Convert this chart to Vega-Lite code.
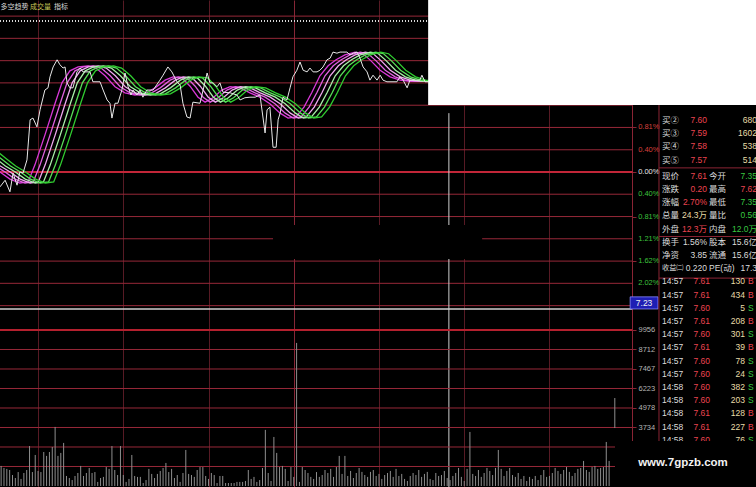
{
"$schema":"https://vega.github.io/schema/vega-lite/v6.json",
"width":756,"height":487,
"autosize":{"type":"none"},
"padding":0,
"background":"#000000",
"config":{"view":{"stroke":null}},
"datasets":{
"px":[{"t":16.6,"p":-0.27},{"t":18.4,"p":-0.15},{"t":20.1,"p":-0.36},{"t":21.2,"p":-0.02},{"t":22.6,"p":-0.24},{"t":23.6,"p":0.0},{"t":24.7,"p":-0.02},{"t":26.1,"p":0.22},{"t":27.2,"p":0.95},{"t":28.2,"p":0.98},{"t":29.6,"p":0.82},{"t":30.7,"p":1.13},{"t":32.4,"p":1.49},{"t":33.5,"p":1.53},{"t":34.2,"p":1.73},{"t":35.3,"p":1.91},{"t":36.7,"p":2.04},{"t":37.7,"p":1.95},{"t":38.8,"p":1.89},{"t":39.5,"p":1.91},{"t":40.2,"p":1.62},{"t":41.2,"p":1.53},{"t":42.3,"p":1.53},{"t":43.7,"p":1.82},{"t":44.8,"p":1.89},{"t":45.8,"p":1.82},{"t":48.3,"p":1.82},{"t":49.3,"p":1.64},{"t":51.8,"p":1.64},{"t":52.9,"p":1.49},{"t":54.3,"p":1.31},{"t":55.3,"p":1.25},{"t":56.0,"p":0.98},{"t":57.1,"p":1.25},{"t":58.1,"p":1.25},{"t":59.5,"p":1.49},{"t":60.6,"p":1.8},{"t":61.7,"p":1.55},{"t":62.7,"p":1.4},{"t":63.4,"p":1.49},{"t":64.8,"p":1.4},{"t":65.9,"p":1.49},{"t":66.9,"p":1.36},{"t":68.3,"p":1.49},{"t":70.5,"p":1.49},{"t":72.9,"p":1.67},{"t":74.0,"p":1.76},{"t":75.7,"p":1.91},{"t":77.1,"p":1.82},{"t":78.9,"p":1.64},{"t":80.0,"p":1.58},{"t":81.0,"p":1.25},{"t":82.4,"p":1.0},{"t":83.5,"p":0.98},{"t":84.5,"p":1.27},{"t":87.0,"p":1.25},{"t":89.5,"p":1.8},{"t":90.5,"p":1.62},{"t":91.6,"p":1.62},{"t":93.0,"p":1.55},{"t":94.0,"p":1.62},{"t":95.1,"p":1.45},{"t":97.6,"p":1.44},{"t":100.0,"p":1.4},{"t":101.1,"p":1.31},{"t":102.8,"p":1.35},{"t":104.6,"p":1.36},{"t":106.4,"p":1.36},{"t":108.1,"p":1.4},{"t":109.9,"p":0.71},{"t":110.6,"p":1.13},{"t":111.6,"p":1.18},{"t":112.7,"p":0.45},{"t":113.8,"p":0.45},{"t":114.5,"p":0.95},{"t":115.2,"p":1.07},{"t":116.2,"p":1.36},{"t":117.6,"p":1.31},{"t":118.7,"p":1.53},{"t":119.7,"p":1.73},{"t":121.1,"p":1.85},{"t":122.2,"p":2.0},{"t":123.3,"p":1.85},{"t":124.7,"p":1.82},{"t":125.7,"p":1.89},{"t":126.8,"p":1.82},{"t":128.2,"p":1.82},{"t":129.2,"p":1.85},{"t":130.3,"p":1.91},{"t":131.7,"p":2.04},{"t":132.8,"p":2.07},{"t":133.8,"p":2.18},{"t":135.2,"p":2.16},{"t":136.3,"p":2.18},{"t":137.3,"p":2.18},{"t":138.7,"p":2.18},{"t":139.8,"p":2.13},{"t":140.9,"p":2.16},{"t":142.3,"p":2.18},{"t":143.3,"p":2.07},{"t":144.4,"p":1.91},{"t":145.8,"p":1.82},{"t":146.8,"p":1.67},{"t":147.9,"p":1.76},{"t":149.3,"p":1.67},{"t":150.4,"p":1.76},{"t":151.4,"p":1.67},{"t":152.8,"p":1.64},{"t":156.3,"p":1.64},{"t":157.4,"p":1.73},{"t":158.5,"p":1.67},{"t":159.9,"p":1.53},{"t":160.9,"p":1.67},{"t":164.4,"p":1.67},{"t":165.1,"p":1.76},{"t":166.2,"p":1.64},{"t":167.3,"p":1.64}],
"rib":[
{"p":0.40,"t0":6.0,"t1":7.8,"t2":9.6,"t3":11.4,"t4":13.2,"t5":15.0},
{"p":0.25,"t0":9.6,"t1":11.4,"t2":13.2,"t3":15.0,"t4":16.8,"t5":18.6},
{"p":0.11,"t0":13.1,"t1":14.9,"t2":16.7,"t3":18.5,"t4":20.3,"t5":22.1},
{"p":0.00,"t0":16.6,"t1":18.4,"t2":20.2,"t3":22.0,"t4":23.8,"t5":25.6},
{"p":-0.13,"t0":20.1,"t1":21.9,"t2":23.7,"t3":25.5,"t4":27.3,"t5":29.1},
{"p":-0.20,"t0":23.6,"t1":25.4,"t2":27.2,"t3":29.0,"t4":30.8,"t5":32.6},
{"p":-0.18,"t0":26.5,"t1":28.3,"t2":30.1,"t3":31.9,"t4":33.7,"t5":35.5},
{"p":0.13,"t0":28.9,"t1":30.7,"t2":32.5,"t3":34.3,"t4":36.1,"t5":37.9},
{"p":0.67,"t0":32.4,"t1":34.2,"t2":36.0,"t3":37.8,"t4":39.6,"t5":41.4},
{"p":1.25,"t0":36.0,"t1":37.8,"t2":39.6,"t3":41.4,"t4":43.2,"t5":45.0},
{"p":1.62,"t0":38.4,"t1":40.2,"t2":42.0,"t3":43.8,"t4":45.6,"t5":47.4},
{"p":1.84,"t0":41.2,"t1":43.0,"t2":44.8,"t3":46.6,"t4":48.4,"t5":50.2},
{"p":1.91,"t0":44.1,"t1":45.9,"t2":47.7,"t3":49.5,"t4":51.3,"t5":53.1},
{"p":1.93,"t0":47.6,"t1":49.4,"t2":51.2,"t3":53.0,"t4":54.8,"t5":56.6},
{"p":1.89,"t0":50.4,"t1":52.2,"t2":54.0,"t3":55.8,"t4":57.6,"t5":59.4},
{"p":1.75,"t0":53.6,"t1":55.4,"t2":57.2,"t3":59.0,"t4":60.8,"t5":62.6},
{"p":1.55,"t0":57.1,"t1":58.9,"t2":60.7,"t3":62.5,"t4":64.3,"t5":66.1},
{"p":1.44,"t0":60.6,"t1":62.4,"t2":64.2,"t3":66.0,"t4":67.8,"t5":69.6},
{"p":1.40,"t0":64.1,"t1":65.9,"t2":67.7,"t3":69.5,"t4":71.3,"t5":73.1},
{"p":1.42,"t0":67.6,"t1":69.4,"t2":71.2,"t3":73.0,"t4":74.8,"t5":76.6},
{"p":1.53,"t0":71.2,"t1":73.0,"t2":74.8,"t3":76.6,"t4":78.4,"t5":80.2},
{"p":1.67,"t0":74.7,"t1":76.5,"t2":78.3,"t3":80.1,"t4":81.9,"t5":83.7},
{"p":1.73,"t0":77.5,"t1":79.3,"t2":81.1,"t3":82.9,"t4":84.7,"t5":86.5},
{"p":1.71,"t0":80.7,"t1":82.5,"t2":84.3,"t3":86.1,"t4":87.9,"t5":89.7},
{"p":1.56,"t0":83.5,"t1":85.3,"t2":87.1,"t3":88.9,"t4":90.7,"t5":92.5},
{"p":1.36,"t0":86.3,"t1":88.1,"t2":89.9,"t3":91.7,"t4":93.5,"t5":95.3},
{"p":1.27,"t0":88.8,"t1":90.6,"t2":92.4,"t3":94.2,"t4":96.0,"t5":97.8},
{"p":1.35,"t0":91.6,"t1":93.4,"t2":95.2,"t3":97.0,"t4":98.8,"t5":100.6},
{"p":1.49,"t0":94.7,"t1":96.5,"t2":98.3,"t3":100.1,"t4":101.9,"t5":103.7},
{"p":1.55,"t0":97.6,"t1":99.4,"t2":101.2,"t3":103.0,"t4":104.8,"t5":106.6},
{"p":1.53,"t0":101.1,"t1":102.9,"t2":104.7,"t3":106.5,"t4":108.3,"t5":110.1},
{"p":1.44,"t0":104.6,"t1":106.4,"t2":108.2,"t3":110.0,"t4":111.8,"t5":113.6},
{"p":1.36,"t0":108.1,"t1":109.9,"t2":111.7,"t3":113.5,"t4":115.3,"t5":117.1},
{"p":1.24,"t0":111.6,"t1":113.4,"t2":115.2,"t3":117.0,"t4":118.8,"t5":120.6},
{"p":1.07,"t0":115.2,"t1":117.0,"t2":118.8,"t3":120.6,"t4":122.4,"t5":124.2},
{"p":0.98,"t0":118.0,"t1":119.8,"t2":121.6,"t3":123.4,"t4":125.2,"t5":127.0},
{"p":1.00,"t0":120.8,"t1":122.6,"t2":124.4,"t3":126.2,"t4":128.0,"t5":129.8},
{"p":1.18,"t0":123.6,"t1":125.4,"t2":127.2,"t3":129.0,"t4":130.8,"t5":132.6},
{"p":1.45,"t0":126.4,"t1":128.2,"t2":130.0,"t3":131.8,"t4":133.6,"t5":135.4},
{"p":1.75,"t0":129.2,"t1":131.0,"t2":132.8,"t3":134.6,"t4":136.4,"t5":138.2},
{"p":1.93,"t0":132.1,"t1":133.9,"t2":135.7,"t3":137.5,"t4":139.3,"t5":141.1},
{"p":2.04,"t0":134.9,"t1":136.7,"t2":138.5,"t3":140.3,"t4":142.1,"t5":143.9},
{"p":2.13,"t0":138.0,"t1":139.8,"t2":141.6,"t3":143.4,"t4":145.2,"t5":147.0},
{"p":2.18,"t0":141.6,"t1":143.4,"t2":145.2,"t3":147.0,"t4":148.8,"t5":150.6},
{"p":2.15,"t0":144.4,"t1":146.2,"t2":148.0,"t3":149.8,"t4":151.6,"t5":153.4},
{"p":2.02,"t0":147.2,"t1":149.0,"t2":150.8,"t3":152.6,"t4":154.4,"t5":156.2},
{"p":1.85,"t0":150.4,"t1":152.2,"t2":154.0,"t3":155.8,"t4":157.6,"t5":159.4},
{"p":1.73,"t0":153.9,"t1":155.7,"t2":157.5,"t3":159.3,"t4":161.1,"t5":162.9},
{"p":1.67,"t0":157.4,"t1":159.2,"t2":161.0,"t3":162.8,"t4":164.6,"t5":166.4},
{"p":1.65,"t0":160.9,"t1":162.7,"t2":164.5,"t3":166.3,"t4":168.1,"t5":169.9},
{"p":1.65,"t0":164.4,"t1":166.2,"t2":168.0,"t3":169.8,"t4":171.6,"t5":173.4},
{"p":1.65,"t0":168.0,"t1":169.8,"t2":171.6,"t3":173.4,"t4":175.2,"t5":177.0}],
"pgrid":[{"p":-2.43},{"p":-2.024},{"p":-1.62},{"p":-1.214},{"p":-0.81},{"p":-0.404},{"p":0.404},{"p":0.81},{"p":1.214},{"p":1.62},{"p":2.024},{"p":2.43},{"p":2.834}],
"plab":[{"p":0.81,"s":"0.81%","k":"r"},{"p":0.404,"s":"0.40%","k":"r"},{"p":0,"s":"0.00%","k":"w"},{"p":-0.404,"s":"0.40%","k":"g"},{"p":-0.81,"s":"0.81%","k":"g"},{"p":-1.214,"s":"1.21%","k":"g"},{"p":-1.62,"s":"1.62%","k":"g"},{"p":-2.024,"s":"2.02%","k":"g"}],
"vgrid":[{"v":1245},{"v":2489},{"v":3734},{"v":4978},{"v":6223},{"v":7467},{"v":8712}],
"vol":[{"t":17,"v":1280},{"t":18,"v":1150},{"t":19,"v":1090},{"t":20,"v":1020},{"t":21,"v":700},{"t":22,"v":510},{"t":23,"v":890},{"t":24,"v":450},{"t":25,"v":830},{"t":26,"v":1020},{"t":27,"v":2550},{"t":28,"v":890},{"t":29,"v":1980},{"t":30,"v":960},{"t":31,"v":890},{"t":32,"v":2170},{"t":33,"v":1920},{"t":34,"v":2170},{"t":35,"v":2490},{"t":36,"v":3770},{"t":37,"v":1920},{"t":38,"v":2110},{"t":39,"v":2750},{"t":40,"v":640},{"t":41,"v":510},{"t":42,"v":380},{"t":43,"v":640},{"t":44,"v":830},{"t":45,"v":1280},{"t":46,"v":640},{"t":47,"v":830},{"t":48,"v":1150},{"t":49,"v":830},{"t":50,"v":890},{"t":51,"v":260},{"t":52,"v":510},{"t":53,"v":580},{"t":54,"v":1210},{"t":55,"v":1090},{"t":56,"v":2550},{"t":57,"v":1020},{"t":58,"v":700},{"t":59,"v":2550},{"t":60,"v":700},{"t":61,"v":260},{"t":62,"v":450},{"t":63,"v":1980},{"t":64,"v":640},{"t":65,"v":580},{"t":66,"v":580},{"t":67,"v":190},{"t":68,"v":380},{"t":69,"v":1090},{"t":70,"v":770},{"t":71,"v":510},{"t":72,"v":770},{"t":73,"v":960},{"t":74,"v":1150},{"t":75,"v":1470},{"t":76,"v":890},{"t":77,"v":1090},{"t":78,"v":510},{"t":79,"v":700},{"t":80,"v":260},{"t":81,"v":830},{"t":82,"v":2300},{"t":83,"v":770},{"t":84,"v":700},{"t":85,"v":580},{"t":86,"v":1020},{"t":87,"v":1210},{"t":88,"v":1210},{"t":89,"v":640},{"t":90,"v":450},{"t":91,"v":830},{"t":92,"v":700},{"t":93,"v":190},{"t":94,"v":640},{"t":95,"v":640},{"t":96,"v":190},{"t":97,"v":190},{"t":98,"v":190},{"t":99,"v":190},{"t":100,"v":260},{"t":101,"v":260},{"t":102,"v":260},{"t":103,"v":320},{"t":104,"v":1020},{"t":105,"v":450},{"t":106,"v":580},{"t":107,"v":260},{"t":108,"v":380},{"t":109,"v":1150},{"t":110,"v":3580},{"t":111,"v":830},{"t":112,"v":320},{"t":113,"v":3130},{"t":114,"v":2110},{"t":115,"v":1210},{"t":116,"v":1280},{"t":117,"v":1090},{"t":118,"v":320},{"t":119,"v":1210},{"t":120,"v":580},{"t":121,"v":9130},{"t":122,"v":260},{"t":123,"v":1210},{"t":124,"v":1020},{"t":125,"v":830},{"t":126,"v":580},{"t":127,"v":450},{"t":128,"v":890},{"t":129,"v":580},{"t":130,"v":700},{"t":131,"v":1020},{"t":132,"v":830},{"t":133,"v":1090},{"t":134,"v":580},{"t":135,"v":1210},{"t":136,"v":1920},{"t":137,"v":770},{"t":138,"v":1920},{"t":139,"v":640},{"t":140,"v":960},{"t":141,"v":510},{"t":142,"v":830},{"t":143,"v":1150},{"t":144,"v":900},{"t":145,"v":700},{"t":146,"v":580},{"t":147,"v":900},{"t":148,"v":1020},{"t":149,"v":640},{"t":150,"v":770},{"t":151,"v":450},{"t":152,"v":700},{"t":153,"v":830},{"t":154,"v":960},{"t":155,"v":580},{"t":156,"v":1090},{"t":157,"v":640},{"t":158,"v":770},{"t":159,"v":450},{"t":160,"v":320},{"t":161,"v":640},{"t":162,"v":830},{"t":163,"v":700},{"t":164,"v":1020},{"t":165,"v":580},{"t":166,"v":770},{"t":167,"v":900},{"t":168,"v":450},{"t":169,"v":380},{"t":170,"v":830},{"t":171,"v":640},{"t":172,"v":700},{"t":173,"v":960},{"t":174,"v":510},{"t":175,"v":380},{"t":176,"v":640},{"t":177,"v":830},{"t":178,"v":1150},{"t":179,"v":580},{"t":180,"v":320},{"t":181,"v":1090},{"t":182,"v":3450},{"t":183,"v":770},{"t":184,"v":640},{"t":185,"v":1020},{"t":186,"v":580},{"t":187,"v":830},{"t":188,"v":1150},{"t":189,"v":960},{"t":190,"v":700},{"t":191,"v":1150},{"t":192,"v":2300},{"t":193,"v":1090},{"t":194,"v":640},{"t":195,"v":960},{"t":196,"v":1150},{"t":197,"v":700},{"t":198,"v":580},{"t":199,"v":830},{"t":200,"v":450},{"t":201,"v":640},{"t":202,"v":320},{"t":203,"v":580},{"t":204,"v":450},{"t":205,"v":640},{"t":206,"v":380},{"t":207,"v":700},{"t":208,"v":1020},{"t":209,"v":580},{"t":210,"v":640},{"t":211,"v":830},{"t":212,"v":1150},{"t":213,"v":960},{"t":214,"v":770},{"t":215,"v":1020},{"t":216,"v":1210},{"t":217,"v":900},{"t":218,"v":640},{"t":219,"v":830},{"t":220,"v":1090},{"t":221,"v":1150},{"t":222,"v":1600},{"t":223,"v":1020},{"t":224,"v":900},{"t":225,"v":1210},{"t":226,"v":1280},{"t":227,"v":1090},{"t":228,"v":1150},{"t":229,"v":1210},{"t":230,"v":2810},{"t":231,"v":1600}],
"fb":[{"t":233,"v":5615,"v2":3700}],
"cross":[{"t":174.6,"p":1.07,"p2":-5.727}],
"occ":[{"t":112.7,"t2":186.3,"p":-0.964,"p2":-1.582}],
"wht":[{"t":167.3,"t2":282.7,"p":1.218,"p2":3.2}],
"lbl":[{"t":238.4,"t2":248.2,"p":-2.27,"p2":-2.49,"tc":243.3,"pc":-2.38,"s":"7.23"}],
"ttl":[{"t":16.8,"p":3.0,"s":"多空趋势","k":"w"},{"t":27.2,"p":3.0,"s":"成交量","k":"y"},{"t":35.6,"p":3.0,"s":"指标","k":"w"}],
"panel":[
{"r":0,"c":0,"s":"买②","k":"w"},{"r":0,"c":1,"s":"7.60","k":"r"},{"r":0,"c":3,"s":"680","k":"y"},
{"r":1,"c":0,"s":"买③","k":"w"},{"r":1,"c":1,"s":"7.59","k":"r"},{"r":1,"c":3,"s":"1602","k":"y"},
{"r":2,"c":0,"s":"买④","k":"w"},{"r":2,"c":1,"s":"7.58","k":"r"},{"r":2,"c":3,"s":"538","k":"y"},
{"r":3,"c":0,"s":"买⑤","k":"w"},{"r":3,"c":1,"s":"7.57","k":"r"},{"r":3,"c":3,"s":"514","k":"y"},
{"r":4,"c":0,"s":"现价","k":"w"},{"r":4,"c":1,"s":"7.61","k":"r"},{"r":4,"c":2,"s":"今开","k":"w"},{"r":4,"c":3,"s":"7.35","k":"g"},
{"r":5,"c":0,"s":"涨跌","k":"w"},{"r":5,"c":1,"s":"0.20","k":"r"},{"r":5,"c":2,"s":"最高","k":"w"},{"r":5,"c":3,"s":"7.62","k":"r"},
{"r":6,"c":0,"s":"涨幅","k":"w"},{"r":6,"c":1,"s":"2.70%","k":"r"},{"r":6,"c":2,"s":"最低","k":"w"},{"r":6,"c":3,"s":"7.35","k":"g"},
{"r":7,"c":0,"s":"总量","k":"w"},{"r":7,"c":1,"s":"24.3万","k":"y"},{"r":7,"c":2,"s":"量比","k":"w"},{"r":7,"c":3,"s":"0.56","k":"g"},
{"r":8,"c":0,"s":"外盘","k":"w"},{"r":8,"c":1,"s":"12.3万","k":"r"},{"r":8,"c":2,"s":"内盘","k":"w"},{"r":8,"c":3,"s":"12.0万","k":"g"},
{"r":9,"c":0,"s":"换手","k":"w"},{"r":9,"c":1,"s":"1.56%","k":"w"},{"r":9,"c":2,"s":"股本","k":"w"},{"r":9,"c":3,"s":"15.6亿","k":"w"},
{"r":10,"c":0,"s":"净资","k":"w"},{"r":10,"c":1,"s":"3.85","k":"w"},{"r":10,"c":2,"s":"流通","k":"w"},{"r":10,"c":3,"s":"15.6亿","k":"w"},
{"r":11,"c":0,"s":"收益㈡","k":"w"},{"r":11,"c":1,"s":"0.220","k":"w"},{"r":11,"c":2,"s":"PE(动)","k":"w"},{"r":11,"c":3,"s":"17.3","k":"w"},
{"r":12,"c":0,"s":"14:57","k":"w"},{"r":12,"c":1,"s":"7.61","k":"r"},{"r":12,"c":2,"s":"130","k":"y"},{"r":12,"c":3,"s":"B","k":"r"},
{"r":13,"c":0,"s":"14:57","k":"w"},{"r":13,"c":1,"s":"7.61","k":"r"},{"r":13,"c":2,"s":"434","k":"y"},{"r":13,"c":3,"s":"B","k":"r"},
{"r":14,"c":0,"s":"14:57","k":"w"},{"r":14,"c":1,"s":"7.60","k":"r"},{"r":14,"c":2,"s":"5","k":"y"},{"r":14,"c":3,"s":"S","k":"g"},
{"r":15,"c":0,"s":"14:57","k":"w"},{"r":15,"c":1,"s":"7.61","k":"r"},{"r":15,"c":2,"s":"208","k":"y"},{"r":15,"c":3,"s":"B","k":"r"},
{"r":16,"c":0,"s":"14:57","k":"w"},{"r":16,"c":1,"s":"7.60","k":"r"},{"r":16,"c":2,"s":"301","k":"y"},{"r":16,"c":3,"s":"S","k":"g"},
{"r":17,"c":0,"s":"14:57","k":"w"},{"r":17,"c":1,"s":"7.61","k":"r"},{"r":17,"c":2,"s":"39","k":"y"},{"r":17,"c":3,"s":"B","k":"r"},
{"r":18,"c":0,"s":"14:57","k":"w"},{"r":18,"c":1,"s":"7.60","k":"r"},{"r":18,"c":2,"s":"78","k":"y"},{"r":18,"c":3,"s":"S","k":"g"},
{"r":19,"c":0,"s":"14:57","k":"w"},{"r":19,"c":1,"s":"7.60","k":"r"},{"r":19,"c":2,"s":"24","k":"y"},{"r":19,"c":3,"s":"S","k":"g"},
{"r":20,"c":0,"s":"14:58","k":"w"},{"r":20,"c":1,"s":"7.60","k":"r"},{"r":20,"c":2,"s":"382","k":"y"},{"r":20,"c":3,"s":"S","k":"g"},
{"r":21,"c":0,"s":"14:58","k":"w"},{"r":21,"c":1,"s":"7.60","k":"r"},{"r":21,"c":2,"s":"203","k":"y"},{"r":21,"c":3,"s":"S","k":"g"},
{"r":22,"c":0,"s":"14:58","k":"w"},{"r":22,"c":1,"s":"7.61","k":"r"},{"r":22,"c":2,"s":"128","k":"y"},{"r":22,"c":3,"s":"B","k":"r"},
{"r":23,"c":0,"s":"14:58","k":"w"},{"r":23,"c":1,"s":"7.61","k":"r"},{"r":23,"c":2,"s":"227","k":"y"},{"r":23,"c":3,"s":"B","k":"r"},
{"r":24,"c":0,"s":"14:58","k":"w"},{"r":24,"c":1,"s":"7.60","k":"r"},{"r":24,"c":2,"s":"76","k":"y"},{"r":24,"c":3,"s":"S","k":"g"}],
"hsep":[{"r":3.4},{"r":8.6},{"r":11.75}],
"vsep":[{"c":-0.13,"r":-1.36,"r2":24.1}],
"wmbox":[{"c":-1.548,"c2":3.2,"r":24.1,"r2":28}],
"wm":[{"c":0.645,"r":25.76,"s":"www.7gpzb.com"}]
},
"resolve":{"scale":{"x":"independent","y":"independent","color":"independent"}},
"layer":[
{"layer":[
 {"data":{"name":"pgrid"},"mark":{"type":"rule","color":"#962838","strokeWidth":1},
  "encoding":{"x":{"datum":16.6,"type":"quantitative"},"x2":{"datum":239.1},"y":{"field":"p","type":"quantitative","title":null,"scale":{"domain":[-5.727,3.127],"nice":false,"zero":false}}}},
 {"data":{"name":"pgrid"},"mark":{"type":"rule","color":"#c22638","strokeWidth":2},
  "encoding":{"x":{"datum":16.6,"type":"quantitative"},"x2":{"datum":239.1},"y":{"datum":0,"type":"quantitative"}}},
 {"data":{"name":"pgrid"},"mark":{"type":"rule","color":"#d8d8d8","strokeWidth":1,"strokeDash":[1,2]},
  "encoding":{"x":{"datum":16.6,"type":"quantitative"},"x2":{"datum":239.1},"y":{"datum":2.745,"type":"quantitative"}}},
 {"data":{"name":"rib"},"transform":[{"fold":["t0","t1","t2","t3","t4","t5"],"as":["k","t"]}],
  "mark":{"type":"line","strokeWidth":1.3,"clip":true},
  "encoding":{
   "x":{"field":"t","type":"quantitative","title":null,"scale":{"domain":[16.6,282.7],"nice":false,"zero":false},
        "axis":{"orient":"bottom","values":[30,60,90,120,150,180,210],"grid":true,"gridColor":{"condition":{"test":"datum.value === 120","value":"#862636"},"value":"#571a24"},"labels":false,"ticks":false,"domain":false}},
   "y":{"field":"p","type":"quantitative","title":null,"scale":{"domain":[-5.727,3.127],"nice":false,"zero":false},
        "axis":{"orient":"right","offset":-124,"values":[-2.43,-2.024,-1.62,-1.214,-0.81,-0.404,0,0.404,0.81,1.214,1.62,2.024,2.43,2.834],"grid":false,"domain":true,"domainColor":"#8a2434","ticks":true,"tickColor":"#8a2434","tickSize":4,"labels":false}},
   "color":{"field":"k","type":"nominal","scale":{"domain":["t0","t1","t2","t3","t4","t5"],"range":["#d838d8","#e060e0","#f0a8f0","#a8f0a8","#58e058","#30cc30"]},"legend":null}}},
 {"data":{"name":"px"},"mark":{"type":"line","color":"#e8e8e8","strokeWidth":1,"clip":true},
  "encoding":{"x":{"field":"t","type":"quantitative","title":null},"y":{"field":"p","type":"quantitative","title":null}}},
 {"data":{"name":"cross"},"mark":{"type":"rule","color":"#cfcfcf","strokeWidth":1},
  "encoding":{"x":{"field":"t","type":"quantitative","title":null},"y":{"field":"p","type":"quantitative","title":null},"y2":{"field":"p2"}}},
 {"data":{"name":"cross"},"mark":{"type":"rule","color":"#d0d0d0","strokeWidth":1.5},
  "encoding":{"x":{"datum":16.6,"type":"quantitative"},"x2":{"datum":239.1},"y":{"datum":-2.49,"type":"quantitative"}}},
 {"data":{"name":"occ"},"mark":{"type":"rect","color":"#000000"},
  "encoding":{"x":{"field":"t","type":"quantitative","title":null},"x2":{"field":"t2"},"y":{"field":"p","type":"quantitative","title":null},"y2":{"field":"p2"}}},
 {"data":{"name":"plab"},"transform":[{"filter":"datum.k == 'r'"}],"mark":{"type":"text","color":"#d8403c","fontSize":7.5,"font":"Liberation Sans, sans-serif","align":"left","baseline":"middle","dx":6},
  "encoding":{"x":{"datum":239.1,"type":"quantitative"},"y":{"field":"p","type":"quantitative","title":null},"text":{"field":"s"}}},
 {"data":{"name":"plab"},"transform":[{"filter":"datum.k == 'w'"}],"mark":{"type":"text","color":"#e6e6e6","fontSize":7.5,"font":"Liberation Sans, sans-serif","align":"left","baseline":"middle","dx":6},
  "encoding":{"x":{"datum":239.1,"type":"quantitative"},"y":{"field":"p","type":"quantitative","title":null},"text":{"field":"s"}}},
 {"data":{"name":"plab"},"transform":[{"filter":"datum.k == 'g'"}],"mark":{"type":"text","color":"#3cc03c","fontSize":7.5,"font":"Liberation Sans, sans-serif","align":"left","baseline":"middle","dx":6},
  "encoding":{"x":{"datum":239.1,"type":"quantitative"},"y":{"field":"p","type":"quantitative","title":null},"text":{"field":"s"}}},
 {"data":{"name":"wht"},"mark":{"type":"rect","color":"#ffffff"},
  "encoding":{"x":{"field":"t","type":"quantitative","title":null},"x2":{"field":"t2"},"y":{"field":"p","type":"quantitative","title":null},"y2":{"field":"p2"}}},
 {"data":{"name":"lbl"},"mark":{"type":"rect","fill":"#1e1eb4","stroke":"#8c8cff","strokeWidth":0.8},
  "encoding":{"x":{"field":"t","type":"quantitative","title":null},"x2":{"field":"t2"},"y":{"field":"p","type":"quantitative","title":null},"y2":{"field":"p2"}}},
 {"data":{"name":"lbl"},"mark":{"type":"text","color":"#f0f0f0","fontSize":8.5,"font":"Liberation Sans, sans-serif","align":"center","baseline":"middle"},
  "encoding":{"x":{"field":"tc","type":"quantitative","title":null},"y":{"field":"pc","type":"quantitative","title":null},"text":{"field":"s"}}},
 {"data":{"name":"ttl"},"transform":[{"filter":"datum.k == 'w'"}],"mark":{"type":"text","color":"#d8d8d8","fontSize":7,"font":"Noto Sans CJK SC","align":"left","baseline":"middle"},
  "encoding":{"x":{"field":"t","type":"quantitative","title":null},"y":{"field":"p","type":"quantitative","title":null},"text":{"field":"s"}}},
 {"data":{"name":"ttl"},"transform":[{"filter":"datum.k == 'y'"}],"mark":{"type":"text","color":"#c8c85a","fontSize":7,"font":"Noto Sans CJK SC","align":"left","baseline":"middle"},
  "encoding":{"x":{"field":"t","type":"quantitative","title":null},"y":{"field":"p","type":"quantitative","title":null},"text":{"field":"s"}}}
]},
{"layer":[
 {"data":{"name":"vgrid"},"mark":{"type":"rule","color":"#962838","strokeWidth":1},
  "encoding":{"x":{"datum":16.6,"type":"quantitative","scale":{"domain":[16.6,282.7],"nice":false,"zero":false},"axis":null},"x2":{"datum":239.1},"y":{"field":"v","type":"quantitative","title":null,"scale":{"domain":[-64,31017],"nice":false,"zero":false}}}},
 {"data":{"name":"vol"},"mark":{"type":"rule","color":"#8e8e8e","strokeWidth":1},
  "encoding":{"x":{"field":"t","type":"quantitative","title":null,"scale":{"domain":[16.6,282.7],"nice":false,"zero":false},"axis":null},
   "y":{"field":"v","type":"quantitative","title":null,"scale":{"domain":[-64,31017],"nice":false,"zero":false},
        "axis":{"orient":"right","offset":-124,"values":[1245,2489,3734,4978,6223,7467,8712,9956],"grid":false,"domain":false,"ticks":true,"tickColor":"#8a2434","tickSize":4,"labelPadding":2,"labelFontSize":7.5,"labelFont":"Liberation Sans, sans-serif","labelColor":"#b4b4b4","labelExpr":"datum.value > 3000 ? format(datum.value, 'd') : ''","labelOverlap":false,"labelBound":false,"labelFlush":false}},
   "y2":{"datum":0}}},
 {"data":{"name":"fb"},"mark":{"type":"rule","color":"#8e8e8e","strokeWidth":1},
  "encoding":{"x":{"field":"t","type":"quantitative","title":null},"y":{"field":"v","type":"quantitative","title":null},"y2":{"field":"v2"}}},
 {"data":{"name":"fb"},"mark":{"type":"rule","color":"#b4202e","strokeWidth":2},
  "encoding":{"x":{"datum":16.6,"type":"quantitative"},"x2":{"datum":239.1},"y":{"datum":9956,"type":"quantitative"}}}
]},
{"layer":[
 {"data":{"name":"hsep"},"mark":{"type":"rule","color":"#8a2434","strokeWidth":1},
  "encoding":{"x":{"datum":-0.13,"type":"quantitative","scale":{"domain":[-21.387,3],"nice":false,"zero":false},"axis":null},"x2":{"datum":3},"y":{"field":"r","type":"quantitative","title":null,"scale":{"domain":[-9.318,27.576],"nice":false,"zero":false,"reverse":true},"axis":null}}},
 {"data":{"name":"vsep"},"mark":{"type":"rule","color":"#8a2434","strokeWidth":1},
  "encoding":{"x":{"field":"c","type":"quantitative","title":null},"y":{"field":"r","type":"quantitative","title":null},"y2":{"field":"r2"}}},
 {"data":{"name":"panel"},"transform":[{"filter":"datum.c == 0 && datum.r < 4"}],
  "mark":{"type":"text","align":"left","baseline":"middle","dx":-1,"dy":-3,"fontSize":8.5,"font":"Noto Sans CJK SC"},
  "encoding":{"x":{"field":"c","type":"quantitative","title":null},"y":{"field":"r","type":"quantitative","title":null},"text":{"field":"s"},
   "color":{"field":"k","type":"nominal","scale":{"domain":["w","r","g","y"],"range":["#dcdcdc","#ec4450","#38c840","#e8dca8"]},"legend":null}}},
 {"data":{"name":"panel"},"transform":[{"filter":"datum.c == 0 && datum.r >= 4 && datum.r < 11"}],
  "mark":{"type":"text","align":"left","baseline":"middle","dx":-1,"fontSize":8.5,"font":"Noto Sans CJK SC"},
  "encoding":{"x":{"field":"c","type":"quantitative","title":null},"y":{"field":"r","type":"quantitative","title":null},"text":{"field":"s"},"color":{"field":"k","type":"nominal","legend":null}}},
 {"data":{"name":"panel"},"transform":[{"filter":"datum.c == 0 && datum.r == 11"}],
  "mark":{"type":"text","align":"left","baseline":"middle","dx":-1,"fontSize":7.2,"font":"Noto Sans CJK SC"},
  "encoding":{"x":{"field":"c","type":"quantitative","title":null},"y":{"field":"r","type":"quantitative","title":null},"text":{"field":"s"},"color":{"field":"k","type":"nominal","legend":null}}},
 {"data":{"name":"panel"},"transform":[{"filter":"datum.c == 0 && datum.r >= 12"}],
  "mark":{"type":"text","align":"left","baseline":"middle","dx":-1,"fontSize":8.5,"font":"Liberation Sans, sans-serif"},
  "encoding":{"x":{"field":"c","type":"quantitative","title":null},"y":{"field":"r","type":"quantitative","title":null},"text":{"field":"s"},"color":{"field":"k","type":"nominal","legend":null}}},
 {"data":{"name":"panel"},"transform":[{"filter":"datum.c == 1 && datum.r < 4"}],
  "mark":{"type":"text","align":"right","baseline":"middle","dx":13,"dy":-3,"fontSize":8.5,"font":"Liberation Sans, Noto Sans CJK SC, sans-serif"},
  "encoding":{"x":{"field":"c","type":"quantitative","title":null},"y":{"field":"r","type":"quantitative","title":null},"text":{"field":"s"},"color":{"field":"k","type":"nominal","legend":null}}},
 {"data":{"name":"panel"},"transform":[{"filter":"datum.c == 1 && datum.r >= 4 && datum.r < 12"}],
  "mark":{"type":"text","align":"right","baseline":"middle","dx":13,"fontSize":8.5,"font":"Liberation Sans, Noto Sans CJK SC, sans-serif"},
  "encoding":{"x":{"field":"c","type":"quantitative","title":null},"y":{"field":"r","type":"quantitative","title":null},"text":{"field":"s"},"color":{"field":"k","type":"nominal","legend":null}}},
 {"data":{"name":"panel"},"transform":[{"filter":"datum.c == 2 && datum.r < 12"}],
  "mark":{"type":"text","align":"left","baseline":"middle","dx":-16,"fontSize":8.5,"font":"Liberation Sans, Noto Sans CJK SC, sans-serif"},
  "encoding":{"x":{"field":"c","type":"quantitative","title":null},"y":{"field":"r","type":"quantitative","title":null},"text":{"field":"s"},"color":{"field":"k","type":"nominal","legend":null}}},
 {"data":{"name":"panel"},"transform":[{"filter":"datum.c == 3 && datum.r < 4"}],
  "mark":{"type":"text","align":"right","baseline":"middle","dx":1,"dy":-3,"fontSize":8.5,"font":"Liberation Sans, Noto Sans CJK SC, sans-serif"},
  "encoding":{"x":{"field":"c","type":"quantitative","title":null},"y":{"field":"r","type":"quantitative","title":null},"text":{"field":"s"},"color":{"field":"k","type":"nominal","legend":null}}},
 {"data":{"name":"panel"},"transform":[{"filter":"datum.c == 3 && datum.r >= 4 && datum.r < 12"}],
  "mark":{"type":"text","align":"right","baseline":"middle","dx":1,"fontSize":8.5,"font":"Liberation Sans, Noto Sans CJK SC, sans-serif"},
  "encoding":{"x":{"field":"c","type":"quantitative","title":null},"y":{"field":"r","type":"quantitative","title":null},"text":{"field":"s"},"color":{"field":"k","type":"nominal","legend":null}}},
 {"data":{"name":"panel"},"transform":[{"filter":"datum.c == 1 && datum.r >= 12"}],
  "mark":{"type":"text","align":"right","baseline":"middle","dx":16,"fontSize":8.5,"font":"Liberation Sans, sans-serif"},
  "encoding":{"x":{"field":"c","type":"quantitative","title":null},"y":{"field":"r","type":"quantitative","title":null},"text":{"field":"s"},"color":{"field":"k","type":"nominal","legend":null}}},
 {"data":{"name":"panel"},"transform":[{"filter":"datum.c == 2 && datum.r >= 12"}],
  "mark":{"type":"text","align":"right","baseline":"middle","dx":20,"fontSize":8.5,"font":"Liberation Sans, sans-serif"},
  "encoding":{"x":{"field":"c","type":"quantitative","title":null},"y":{"field":"r","type":"quantitative","title":null},"text":{"field":"s"},"color":{"field":"k","type":"nominal","legend":null}}},
 {"data":{"name":"panel"},"transform":[{"filter":"datum.c == 3 && datum.r >= 12"}],
  "mark":{"type":"text","align":"left","baseline":"middle","dx":-8,"fontSize":8.5,"font":"Liberation Sans, sans-serif"},
  "encoding":{"x":{"field":"c","type":"quantitative","title":null},"y":{"field":"r","type":"quantitative","title":null},"text":{"field":"s"},"color":{"field":"k","type":"nominal","legend":null}}},
 {"data":{"name":"wmbox"},"mark":{"type":"rect","color":"#000000"},
  "encoding":{"x":{"field":"c","type":"quantitative","title":null},"x2":{"field":"c2"},"y":{"field":"r","type":"quantitative","title":null},"y2":{"field":"r2"}}},
 {"data":{"name":"wm"},"mark":{"type":"text","align":"center","baseline":"middle","fontSize":11.5,"fontWeight":"bold","font":"Liberation Sans, Arial, sans-serif","color":"#f2f2f2"},
  "encoding":{"x":{"field":"c","type":"quantitative","title":null},"y":{"field":"r","type":"quantitative","title":null},"text":{"field":"s"}}}
]}
]
}
